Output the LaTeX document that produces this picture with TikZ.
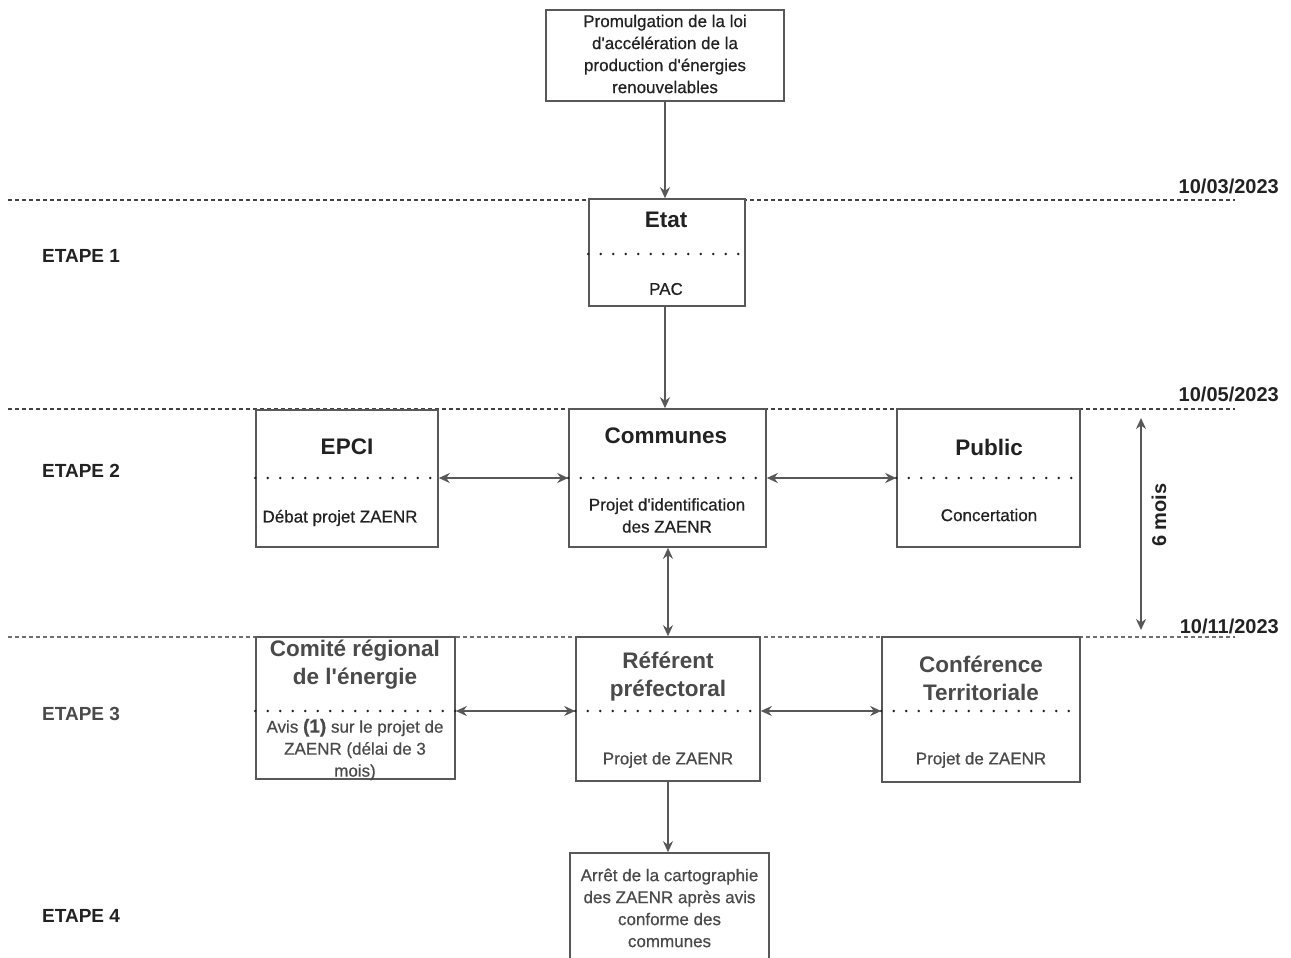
\documentclass[tikz,border=0pt]{standalone}
\usepackage{fontspec}
\setmainfont{Liberation Sans}
\newfontfamily\heavyfont{Liberation Sans}[FakeBold=0.6]
\usetikzlibrary{arrows.meta,calc}
\definecolor{ink}{HTML}{222222}
\definecolor{grayink}{HTML}{4A4A4A}
\definecolor{boxc}{HTML}{585858}
\newcommand{\apo}{\textquotesingle}
\begin{document}
\begin{tikzpicture}[x=1pt,y=-1pt,
  box/.style={draw=boxc,line width=1.6pt,inner sep=0pt},
  body/.style={font=\heavyfont\fontsize{17}{22}\selectfont,text=ink,align=center,inner sep=0pt},
  gbody/.style={body,text=grayink},
  title/.style={font=\bfseries\fontsize{22.5}{28}\selectfont,text=ink,align=center,inner sep=0pt},
  gtitle/.style={title,text=grayink},
  etape/.style={font=\bfseries\fontsize{19}{22}\selectfont,text=ink,anchor=west,inner sep=0pt},
  datel/.style={font=\bfseries\fontsize{20}{24}\selectfont,text=ink,anchor=east,inner sep=0pt},
  arr/.style={draw=boxc,line width=1.6pt,-{Stealth[length=11pt,width=10pt]}},
  dbl/.style={draw=boxc,line width=1.6pt,{Stealth[length=11pt,width=10pt]}-{Stealth[length=11pt,width=10pt]}},
  sepline/.style={draw=ink,line width=2.8pt,line cap=round,dash pattern=on 0pt off 12.5pt},
  dashline/.style={draw=ink!85,line width=1.5pt,dash pattern=on 4pt off 3pt},
]
\useasboundingbox (0,0) rectangle (1291,958);
\fill[white] (0,0) rectangle (1291,958);

% horizontal dashed separators
\coordinate (l1a) at (8,200);  \coordinate (l1b) at (1235,200);
\coordinate (l2a) at (8,409);  \coordinate (l2b) at (1235,409);
\coordinate (l3a) at (8,637);  \coordinate (l3b) at (1235,637);
\draw[dashline] (l1a) -- (l1b);
\draw[dashline] (l2a) -- (l2b);
\draw[dashline,draw=ink!65] (l3a) -- (l3b);

% dates
\node[datel] (d1) at (1279,186) {10/03/2023};
\node[datel] (d2) at (1279,394) {10/05/2023};
\node[datel] (d3) at (1279,626) {10/11/2023};

% etapes
\node[etape] (e1) at (42,256) {ETAPE 1};
\node[etape] (e2) at (42,471) {ETAPE 2};
\node[etape,text=grayink] (e3) at (42,714) {ETAPE 3};
\node[etape] (e4) at (42,916) {ETAPE 4};

% boxes (drawn over the dashed lines)
\node[box,fill=white,minimum width=238pt,minimum height=91pt] (top) at (665,55.5) {};
\node[box,fill=white,minimum width=156pt,minimum height=107pt] (etat) at (667,252.5) {};
\node[box,fill=white,minimum width=182pt,minimum height=137pt] (epci) at (347,478.5) {};
\node[box,fill=white,minimum width=197pt,minimum height=138pt] (com) at (667.5,478) {};
\node[box,fill=white,minimum width=183pt,minimum height=138pt] (pub) at (988.5,478) {};
\node[box,fill=white,minimum width=199pt,minimum height=142pt] (comite) at (355.5,708) {};
\node[box,fill=white,minimum width=184pt,minimum height=144pt] (ref) at (668,709) {};
\node[box,fill=white,minimum width=198pt,minimum height=145pt] (conf) at (981,709.5) {};
\node[box,fill=white,minimum width=199pt,minimum height=112pt] (arret) at (669.5,909) {};

% texts
\node[body] (ttop) at (665,54) {Promulgation de la loi\\d\apo accélération de la\\production d\apo énergies\\renouvelables};
\node[title] (tetat) at (666,220) {Etat};
\node[body] (tpac) at (666,289) {PAC};
\node[title] (tepci) at (347,447) {EPCI};
\node[body] (tdeb) at (340,518) {Débat projet ZAENR};
\node[title] (tcom) at (666,436) {Communes};
\node[body] (tproj) at (667,515.5) {Projet d\apo identification\\des ZAENR};
\node[title] (tpub) at (989,447) {Public};
\node[body] (tconc) at (989,515) {Concertation};
\node[gtitle] (tcomite) at (355,665) {Comité régional\\de l\apo énergie};
\node[gbody] (tavis) at (355,749.5) {Avis {\bfseries\fontsize{19}{22}\selectfont(1)} sur le projet de\\ZAENR (délai de 3\\mois)};
\node[gtitle] (tref) at (668,677) {Référent\\préfectoral};
\node[gbody] (tpref) at (668,760) {Projet de ZAENR};
\node[gtitle] (tconf) at (981,678) {Conférence\\Territoriale};
\node[gbody] (tpconf) at (981,760) {Projet de ZAENR};
\node[gbody] (tarret) at (669.5,908) {Arrêt de la cartographie\\des ZAENR après avis\\conforme des\\communes};

% dotted separators inside boxes
\coordinate (s1) at (0,254);
\coordinate (s2) at (0,478);
\coordinate (s3) at (0,711);
\draw[sepline] (etat.west |- s1) -- (etat.east |- s1);
\draw[sepline] (epci.west |- s2) -- (epci.east |- s2);
\draw[sepline] (com.west |- s2) -- (com.east |- s2);
\draw[sepline] (pub.west |- s2) -- (pub.east |- s2);
\draw[sepline] (comite.west |- s3) -- (comite.east |- s3);
\draw[sepline] (ref.west |- s3) -- (ref.east |- s3);
\draw[sepline] (conf.west |- s3) -- (conf.east |- s3);

% connectors
\draw[arr] (top.south) -- (top.south |- etat.north);
\draw[arr] (etat.south -| top.south) -- (com.north -| top.south);
\draw[dbl] (epci.east |- s2) -- (com.west |- s2);
\draw[dbl] (com.east |- s2) -- (pub.west |- s2);
\draw[dbl] (com.south -| ref.south) -- (ref.north);
\draw[dbl] (comite.east |- s3) -- (ref.west |- s3);
\draw[dbl] (ref.east |- s3) -- (conf.west |- s3);
\draw[arr] (ref.south) -- (ref.south |- arret.north);

% 6 mois
\coordinate (m1) at (1141,418);
\coordinate (m2) at (1141,630);
\draw[dbl] (m1) -- (m2);
\node[font=\bfseries\fontsize{20}{24}\selectfont,text=ink,rotate=90,inner sep=0pt] (six) at (1159,515) {6 mois};
\end{tikzpicture}
\end{document}
